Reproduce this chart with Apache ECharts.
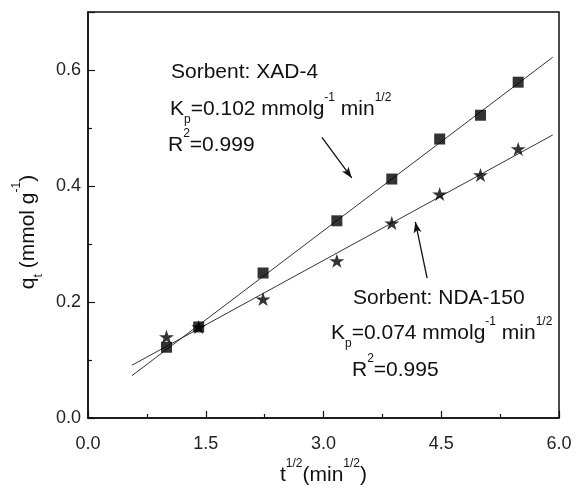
<!DOCTYPE html>
<html>
<head>
<meta charset="utf-8">
<script src="https://cdn.jsdelivr.net/npm/echarts@6/dist/echarts.min.js"></script>
<style>
  html, body { margin: 0; padding: 0; background: #fff; }
  #main { width: 576px; height: 488px; }
</style>
</head>
<body>
<div id="main"></div>
<script>
// 数据
var tSqrt = [1.0, 1.41, 2.23, 3.17, 3.87, 4.48, 5.0, 5.48];
var qXAD = [0.122, 0.157, 0.250, 0.340, 0.412, 0.481, 0.522, 0.579];
var qNDA = [0.140, 0.157, 0.205, 0.271, 0.336, 0.386, 0.419, 0.464];

// fitted lines, endpoints
var fitX = [0.56, 5.92];
var fitXAD = [0.073, 0.622];
var fitNDA = [0.091, 0.488];

// arrows: [x1, y1, x2, y2] in data units
var arrowXAD = [2.98, 0.484, 3.36, 0.414];
var arrowNDA = [4.32, 0.241, 4.17, 0.338];

var starPath = 'path://M100,0 L122.45,69.1 L195.1,69.1 L136.3,111.8 L158.8,180.9 L100,138.2 L41.2,180.9 L63.7,111.8 L4.9,69.1 L77.55,69.1 Z';

function pairs(xs, ys) {
    var out = [];
    for (var i = 0; i < xs.length; i++) out.push([xs[i], ys[i]]);
    return out;
}

var FONT = '"Liberation Sans", Arial, sans-serif';

// rich styles for axis names
var axisRich = {
    m: { fontSize: 21, fontFamily: FONT, color: '#111', lineHeight: 34, verticalAlign: 'middle' },
    sup: { fontSize: 12, fontFamily: FONT, color: '#111', lineHeight: 27, verticalAlign: 'top' },
    sub: { fontSize: 12, fontFamily: FONT, color: '#111', lineHeight: 14, verticalAlign: 'bottom' }
};

// rich styles for the notes
var noteRich = {
    m: { font: '21px ' + FONT, fill: '#111', lineHeight: 34, verticalAlign: 'middle' },
    sup: { font: '12px ' + FONT, fill: '#111', lineHeight: 27, verticalAlign: 'top' },
    sub: { font: '12px ' + FONT, fill: '#111', lineHeight: 14, verticalAlign: 'bottom' }
};

function note(x, y, text) {
    return {
        type: 'text',
        left: x,
        top: y - 17,
        silent: true,
        style: { text: text, rich: noteRich, font: '21px ' + FONT, fill: '#111' }
    };
}

var myChart = echarts.init(document.getElementById('main'));

var option = {
    backgroundColor: '#fff',
    animation: false,
    grid: {
        left: 88, right: 17, top: 12, bottom: 70,
        outerBoundsMode: 'none',
        containLabel: false,
        show: true, borderColor: '#111', borderWidth: 1.5
    },
    xAxis: {
        type: 'value',
        min: 0, max: 6, interval: 1.5,
        name: '{m|t}{sup|1/2}{m|(min}{sup|1/2}{m|)}',
        nameLocation: 'middle',
        nameGap: 40,
        nameTextStyle: { rich: axisRich, fontSize: 21 },
        axisLine: { lineStyle: { color: '#111', width: 1.5 } },
        axisTick: { inside: true, length: 7, lineStyle: { color: '#111', width: 1.2 } },
        minorTick: { show: true, splitNumber: 2, length: 4, lineStyle: { color: '#111', width: 1.2 } },
        axisLabel: {
            margin: 17, fontSize: 18, fontFamily: FONT, color: '#222',
            formatter: function (v) { return v.toFixed(1); }
        },
        splitLine: { show: false }
    },
    yAxis: {
        type: 'value',
        min: 0, max: 0.7, interval: 0.2,
        name: '{m|q}{sub|t}{m| (mmol g}{sup|-1}{m|)}',
        nameLocation: 'middle',
        nameRotate: 90,
        nameGap: 42,
        nameTextStyle: { rich: axisRich, fontSize: 21, padding: [0, 34, 0, 0] },
        axisLine: { lineStyle: { color: '#111', width: 1.5 } },
        axisTick: { inside: true, length: 7, lineStyle: { color: '#111', width: 1.2 } },
        minorTick: { show: true, splitNumber: 2, length: 4, lineStyle: { color: '#111', width: 1.2 } },
        axisLabel: {
            margin: 7, fontSize: 18, fontFamily: FONT, color: '#222',
            showMaxLabel: false,
            formatter: function (v) { return v > 0.65 ? '' : v.toFixed(1); }
        },
        splitLine: { show: false }
    },
    series: [{
        name: 'XAD-4 fit',
        type: 'line',
        data: pairs(fitX, fitXAD),
        symbol: 'none',
        lineStyle: { color: '#333', width: 1 },
        silent: true,
        markLine: {
            silent: true,
            symbol: ['none', 'arrow'],
            symbolSize: [6, 11],
            label: { show: false },
            lineStyle: { color: '#111', width: 1.3, type: 'solid' },
            data: [
                [{ coord: [arrowXAD[0], arrowXAD[1]] }, { coord: [arrowXAD[2], arrowXAD[3]] }],
                [{ coord: [arrowNDA[0], arrowNDA[1]] }, { coord: [arrowNDA[2], arrowNDA[3]] }]
            ]
        }
    }, {
        name: 'NDA-150 fit',
        type: 'line',
        data: pairs(fitX, fitNDA),
        symbol: 'none',
        lineStyle: { color: '#333', width: 1 },
        silent: true
    }, {
        name: 'NDA-150',
        type: 'scatter',
        data: pairs(tSqrt, qNDA),
        symbol: starPath,
        symbolSize: [15, 14],
        itemStyle: { color: '#000' },
        z: 3
    }, {
        name: 'XAD-4',
        type: 'scatter',
        data: pairs(tSqrt, qXAD),
        symbol: 'rect',
        symbolSize: 11,
        itemStyle: { color: '#000' },
        z: 4
    }],
    graphic: [
        note(171, 79, '{m|Sorbent:}{m| XAD-4}'),
        note(170, 109, '{m|K}{sub|p}{m|=0.102 mmolg}{sup|-1}{m| min}{sup|1/2}'),
        note(168, 145, '{m|R}{sup|2}{m|=0.999}'),
        note(353, 305, '{m|Sorbent:}{m| NDA-150}'),
        note(331, 333, '{m|K}{sub|p}{m|=0.074 mmolg}{sup|-1}{m| min}{sup|1/2}'),
        note(352, 370, '{m|R}{sup|2}{m|=0.995}')
    ]
};

myChart.setOption(option);
</script>
</body>
</html>
